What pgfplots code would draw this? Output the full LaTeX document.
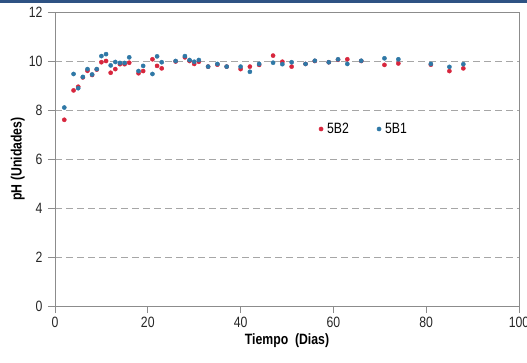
\documentclass[border=0pt]{standalone}
\usepackage{fontspec}
\setmainfont{Liberation Sans}[FakeStretch=0.82]
\usepackage{pgfplots}
\pgfplotsset{compat=1.18}

\definecolor{serieA}{HTML}{D7263D}
\definecolor{serieB}{HTML}{2F78A6}
\definecolor{banda}{HTML}{2E5283}
\definecolor{rejilla}{HTML}{A6A6A6}
\definecolor{eje}{HTML}{8C8C8C}

\begin{document}
\begin{tikzpicture}
% page frame and the band along the top
\path[use as bounding box] (-55bp,-57bp) rectangle (472bp,306bp);
\fill[banda] (-55bp,303bp) rectangle (472bp,306bp);
\begin{axis}[
  scale only axis,
  width=464bp, height=294bp,
  xmin=0, xmax=100, ymin=0, ymax=12,
  xtick={0,20,...,100}, ytick={0,2,...,12},
  axis line style={eje, line width=0.8pt},
  tick style={eje, line width=0.8pt},
  tick align=outside,
  major tick length=7bp,
  xtick pos=bottom, ytick pos=left,
  ymajorgrids,
  grid style={rejilla, dash pattern=on 7bp off 4bp, line width=0.7pt},
  /pgf/number format/assume math mode=true,
  ticklabel style={font=\fontsize{15}{17}\selectfont, text=black!85},
  xticklabel style={yshift=-1bp},
  yticklabel style={xshift=-2bp},
  xlabel={Tiempo\ \ (Dias)},
  ylabel={pH (Unidades)},
  label style={font=\bfseries\fontsize{15}{17}\selectfont},
  xlabel style={at={(axis description cs:0.5,-0.119)}, anchor=center},
  ylabel style={at={(axis description cs:-0.08,0.5)}, anchor=center},
  legend columns=2,
  legend style={at={(axis description cs:0.562,0.602)}, anchor=west,
    draw=none, fill=none, font=\fontsize{15}{17}\selectfont,
    /tikz/every odd column/.append style={column sep=2bp},
    /tikz/every even column/.append style={column sep=26bp}},
  legend cell align=left,
]
% 5B2
\addplot[only marks, mark=*, mark size=2.1bp, color=serieA] coordinates {
 (2,7.6) (4,8.8) (5,8.95) (6,9.33) (7,9.6) (8,9.43) (9,9.65)
 (10,9.95) (11,10.0) (12,9.52) (13,9.67) (14,9.87) (15,9.87) (16,9.93)
 (18,9.5) (19,9.59) (21,10.07) (22,9.8) (23,9.7) (26,9.98) (28,10.15)
 (29,10.0) (30,9.88) (31,9.97) (33,9.77) (35,9.85) (37,9.77) (40,9.67)
 (42,9.77) (44,9.84) (47,10.22) (49,9.97) (51,9.77) (54,9.88) (56,10.0)
 (59,9.95) (61,10.05) (63,10.07) (66,10.0) (71,9.84) (74,9.9) (81,9.85)
 (85,9.59) (88,9.7)
};
\addlegendentry{5B2}
% 5B1
\addplot[only marks, mark=*, mark size=2.1bp, color=serieB] coordinates {
 (2,8.1) (4,9.47) (5,8.89) (6,9.35) (7,9.67) (8,9.45) (9,9.67)
 (10,10.2) (11,10.28) (12,9.82) (13,9.96) (14,9.92) (15,9.92) (16,10.15)
 (18,9.59) (19,9.8) (21,9.47) (22,10.19) (23,9.95) (26,10.0) (28,10.2)
 (29,10.04) (30,9.97) (31,10.04) (33,9.77) (35,9.88) (37,9.77) (40,9.77)
 (42,9.56) (44,9.88) (47,9.93) (49,9.87) (51,9.95) (54,9.88) (56,10.01)
 (59,9.95) (61,10.07) (63,9.88) (66,10.01) (71,10.11) (74,10.07) (81,9.88)
 (85,9.76) (88,9.87)
};
\addlegendentry{5B1}
\end{axis}
\end{tikzpicture}
\end{document}
